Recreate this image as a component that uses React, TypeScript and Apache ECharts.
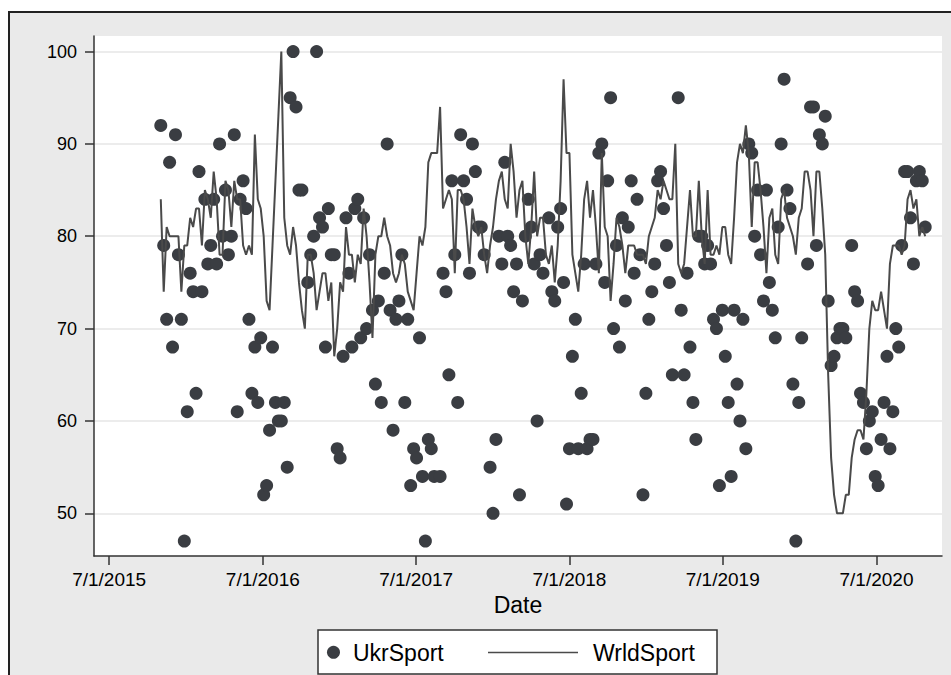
import React, { useEffect, useRef } from "react";
import * as echarts from "echarts";

// Weekly observations starting Sunday 1 Nov 2015
const START_DATE = Date.UTC(2015, 10, 1);
const WEEK_MS = 7 * 24 * 3600 * 1000;

const ukrSport: (number | null)[] = [
  92, 79, 71, 88, 68, 91, 78, 71, 47, 61,
  76, 74, 63, 87, 74, 84, 77, 79, 84, 77,
  90, 80, 85, 78, 80, 91, 61, 84, 86, 83,
  71, 63, 68, 62, 69, 52, 53, 59, 68, 62,
  60, 60, 62, 55, 95, 100, 94, 85, 85, null,
  75, 78, 80, 100, 82, 81, 68, 83, 78, 78,
  57, 56, 67, 82, 76, 68, 83, 84, 69, 82,
  70, 78, 72, 64, 73, 62, 76, 90, 72, 59,
  71, 73, 78, 62, 71, 53, 57, 56, 69, 54,
  47, 58, 57, 54, null, 54, 76, 74, 65, 86,
  78, 62, 91, 86, 84, 76, 90, 87, 81, 81,
  78, null, 55, 50, 58, 80, 77, 88, 80, 79,
  74, 77, 52, 73, 80, 84, 81, 77, 60, 78,
  76, null, 82, 74, 73, 81, 83, 75, 51, 57,
  67, 71, 57, 63, 77, 57, 58, 58, 77, 89,
  90, 75, 86, 95, 70, 79, 68, 82, 73, 81,
  86, 76, 84, 78, 52, 63, 71, 74, 77, 86,
  87, 83, 79, 75, 65, null, 95, 72, 65, 76,
  68, 62, 58, 80, 80, 77, 79, 77, 71, 70,
  53, 72, 67, 62, 54, 72, 64, 60, 71, 57,
  90, 89, 80, 85, 78, 73, 85, 75, 72, 69,
  81, 90, 97, 85, 83, 64, 47, 62, 69, null,
  77, 94, 94, 79, 91, 90, 93, 73, 66, 67,
  69, 70, 70, 69, null, 79, 74, 73, 63, 62,
  57, 60, 61, 54, 53, 58, 62, 67, 57, 61,
  70, 68, 79, 87, 87, 82, 77, 86, 87, 86,
  81,
];

const wrldSport: number[] = [
  84, 74, 81, 80, 80, 80, 80, 74, 79, 79,
  82, 81, 83, 83, 79, 85, 84, 82, 87, 84,
  78, 78, 86, 85, 81, 86, 84, 84, 79, 78,
  79, 78, 91, 84, 83, 80, 73, 72, 79, 86,
  93, 100, 82, 79, 78, 81, 79, 75, 72, 70,
  78, 78, 76, 72, 74, 76, 76, 73, 75, 67,
  70, 75, 74, 81, 78, 78, 75, 78, 77, 83,
  80, 75, 69, 78, 80, 80, 82, 80, 79, 76,
  75, 76, 78, 77, 74, 73, 72, 76, 80, 79,
  81, 88, 89, 89, 89, 94, 83, 84, 85, 84,
  76, 85, 85, 84, 81, 77, 83, 81, 80, 81,
  78, 76, 79, 81, 84, 86, 87, 84, 83, 90,
  87, 82, 85, 86, 80, 77, 81, 87, 80, 82,
  82, 78, 77, 79, 75, 79, 86, 97, 89, 89,
  78, 76, 74, 78, 84, 86, 82, 85, 81, 76,
  89, 81, 80, 73, 77, 82, 81, 79, 76, 79,
  79, 79, 78, 78, 78, 77, 80, 81, 82, 85,
  84, 86, 85, 84, 84, 90, 77, 76, 77, 81,
  85, 80, 80, 86, 80, 77, 85, 78, 78, 79,
  78, 81, 81, 78, 77, 82, 88, 90, 89, 92,
  89, 81, 88, 88, 85, 81, 76, 82, 83, 78,
  77, 84, 85, 82, 81, 80, 78, 82, 83, 87,
  87, 85, 80, 87, 87, 83, 78, 65, 56, 52,
  50, 50, 50, 52, 52, 56, 58, 59, 59, 58,
  63, 70, 73, 72, 72, 74, 72, 70, 77, 79,
  79, 79, 78, 79, 84, 85, 83, 84, 80, 81,
  80,
];

const xTickLabels = ["7/1/2015", "7/1/2016", "7/1/2017", "7/1/2018", "7/1/2019", "7/1/2020"];
const xTickValues = [
  Date.UTC(2015, 6, 1),
  Date.UTC(2016, 6, 1),
  Date.UTC(2017, 6, 1),
  Date.UTC(2018, 6, 1),
  Date.UTC(2019, 6, 1),
  Date.UTC(2020, 6, 1),
];
const yTicks = [50, 60, 70, 80, 90, 100];

const FONT = "'Liberation Sans', Arial, Helvetica, sans-serif";

export default function App() {
  const ref = useRef<HTMLDivElement>(null);

  useEffect(() => {
    if (!ref.current) return;
    const chart = echarts.init(ref.current, null, { renderer: "svg" });

    const dates = wrldSport.map((_, i) => START_DATE + i * WEEK_MS);
    const scatterData: [number, number][] = [];
    ukrSport.forEach((v, i) => {
      if (v !== null) scatterData.push([dates[i], v]);
    });
    const lineData = wrldSport.map((v, i) => [dates[i], v]);

    const option: any = {
      animation: false,
      backgroundColor: "#ffffff",
      grid: { left: 94, top: 36, right: 9, bottom: 119, show: false },
      graphic: [
        {
          type: "rect",
          z: 0,
          shape: { x: 9, y: 12, width: 960, height: 700 },
          style: { fill: "#eaeaea", stroke: "#222222", lineWidth: 2 },
        },
        {
          type: "rect",
          z: 0,
          shape: { x: 94, y: 36, width: 848, height: 520 },
          style: { fill: "#ffffff" },
        },
        {
          type: "rect",
          z: 0,
          shape: { x: 318, y: 630, width: 399, height: 44 },
          style: { fill: "#ffffff", stroke: "#333333", lineWidth: 1.5 },
        },
        {
          type: "circle",
          z: 1,
          shape: { cx: 333.5, cy: 652.3, r: 6.5 },
          style: { fill: "#3a3d42" },
        },
        {
          type: "text",
          z: 1,
          x: 353,
          y: 652.5,
          style: {
            text: "UkrSport",
            fill: "#000000",
            fontSize: 23,
            fontFamily: FONT,
            verticalAlign: "middle",
            align: "left",
          },
        },
        {
          type: "line",
          z: 1,
          shape: { x1: 488, y1: 652.5, x2: 578, y2: 652.5 },
          style: { stroke: "#4a4a4a", lineWidth: 1.5 },
        },
        {
          type: "text",
          z: 1,
          x: 593,
          y: 652.5,
          style: {
            text: "WrldSport",
            fill: "#000000",
            fontSize: 23,
            fontFamily: FONT,
            verticalAlign: "middle",
            align: "left",
          },
        },
      ],
      xAxis: {
        type: "value",
        z: 3,
        min: Date.UTC(2015, 4, 26),
        max: Date.UTC(2020, 11, 4),
        name: "Date",
        nameLocation: "middle",
        nameGap: 36,
        nameTextStyle: { color: "#000", fontSize: 23, fontFamily: FONT },
        axisLine: { show: true, onZero: false, lineStyle: { color: "#333", width: 1.5 } },
        axisTick: {
          show: true,
          length: 9,
          customValues: xTickValues,
          lineStyle: { color: "#333", width: 1.5 },
        },
        axisLabel: {
          customValues: xTickValues,
          margin: 14,
          color: "#000",
          fontSize: 19,
          fontFamily: FONT,
          formatter: (v: number) => {
            const idx = xTickValues.indexOf(v);
            if (idx >= 0) return xTickLabels[idx];
            const d = new Date(v);
            return `${d.getUTCMonth() + 1}/${d.getUTCDate()}/${d.getUTCFullYear()}`;
          },
        },
        splitLine: { show: false },
      },
      yAxis: {
        type: "value",
        z: 3,
        min: 45.38,
        max: 101.68,
        axisLine: { show: true, onZero: false, lineStyle: { color: "#333", width: 1.5 } },
        axisTick: {
          show: true,
          length: 9,
          customValues: yTicks,
          lineStyle: { color: "#333", width: 1.5 },
        },
        axisLabel: {
          customValues: yTicks,
          margin: 17,
          color: "#000",
          fontSize: 18,
          fontFamily: FONT,
        },
        splitLine: { show: false },
      },
      series: [
        {
          name: "grid",
          type: "line",
          data: [],
          z: 1,
          silent: true,
          markLine: {
            z: 1,
            silent: true,
            symbol: ["none", "none"],
            label: { show: false },
            lineStyle: { color: "#e6e6e6", width: 1.5, type: "solid" },
            data: yTicks.map((t) => ({ yAxis: t })),
          },
        },
        {
          name: "UkrSport",
          type: "scatter",
          z: 4,
          symbol: "circle",
          symbolSize: 13,
          itemStyle: { color: "#3a3d42", opacity: 1 },
          data: scatterData,
        },
        {
          name: "WrldSport",
          type: "line",
          z: 5,
          showSymbol: false,
          symbol: "none",
          lineStyle: { color: "#4a4a4a", width: 2 },
          data: lineData,
        },
      ],
    };

    chart.setOption(option);
    return () => {
      chart.dispose();
    };
  }, []);

  return (
    <div
      ref={ref}
      style={{ position: "absolute", left: 0, top: 0, width: 951, height: 675, background: "#fff" }}
    />
  );
}
